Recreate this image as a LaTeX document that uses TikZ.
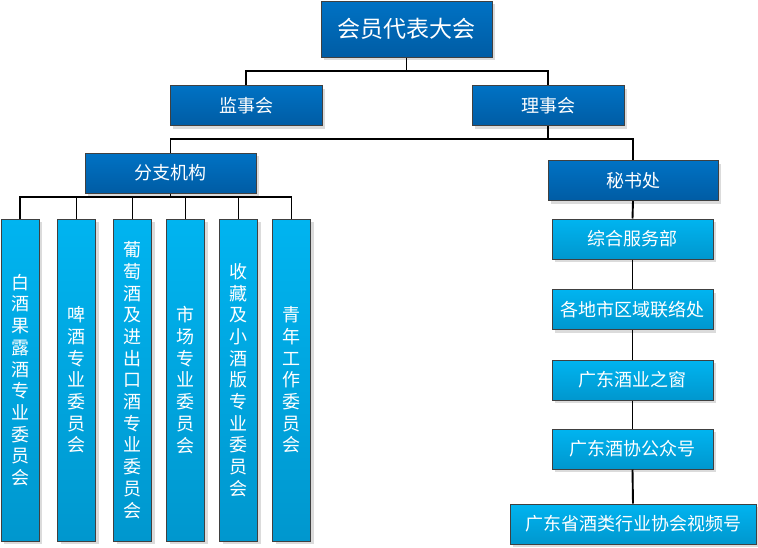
\documentclass[tikz,border=0pt]{standalone}
\usepackage{fontspec}
\setmainfont{Noto Sans CJK SC}
\usetikzlibrary{shadows}

\definecolor{darkTop}{HTML}{0072C4}
\definecolor{darkBot}{HTML}{005CA4}
\definecolor{lightTop}{HTML}{00B4F0}
\definecolor{lightBot}{HTML}{0097CE}
\definecolor{rim}{HTML}{404040}

\tikzset{
  box/.style={draw=rim, line width=1pt, text=white, inner sep=0pt,
    drop shadow={shadow xshift=3pt, shadow yshift=-3pt, fill=black!14, opacity=1}},
  darkbox/.style={box, top color=darkTop, bottom color=darkBot},
  lightbox/.style={box, top color=lightTop, bottom color=lightBot},
  hbox/.style={minimum width=#1, minimum height=40pt, font=\fontsize{18}{22}\selectfont},
  vbox/.style={lightbox, minimum width=38pt, minimum height=322pt, align=center,
    font=\fontsize{18}{21.7}\selectfont},
  link/.style={line width=1.9pt, black},
}

\begin{document}
\begin{tikzpicture}[x=1pt,y=-1pt]
    \useasboundingbox (0,0) rectangle (758,547);

    % Sommet
    \node[darkbox, minimum width=171pt, minimum height=56pt, font=\fontsize{23}{26}\selectfont] (top) at (406.5,29) {会员代表大会};

    % Deuxieme niveau
    \node[darkbox, hbox=152pt] (jsh) at (246,105.5) {监事会};
    \node[darkbox, hbox=152pt] (lsh) at (548,105.5) {理事会};

    % Troisieme niveau
    \node[darkbox, hbox=171pt] (fzjg) at (170.5,173) {分支机构};
    \node[darkbox, hbox=170pt] (msc) at (633,180.5) {秘书处};

    % Commissions (texte vertical)
    \node[vbox] (sub1) at (20,380) {白\\酒\\果\\露\\酒\\专\\业\\委\\员\\会};
    \node[vbox] (sub2) at (76.5,380) {啤\\酒\\专\\业\\委\\员\\会};
    \node[vbox] (sub3) at (132.5,380) {葡\\萄\\酒\\及\\进\\出\\口\\酒\\专\\业\\委\\员\\会};
    \node[vbox] (sub4) at (185.5,380) {市\\场\\专\\业\\委\\员\\会};
    \node[vbox] (sub5) at (238.5,380) {收\\藏\\及\\小\\酒\\版\\专\\业\\委\\员\\会};
    \node[vbox] (sub6) at (291.5,380) {青\\年\\工\\作\\委\\员\\会};

    % Services du secretariat
    \node[lightbox, hbox=161pt] (zhfw) at (632.5,239) {综合服务部};
    \node[lightbox, hbox=161pt] (gdsq) at (632.5,309.5) {各地市区域联络处};
    \node[lightbox, hbox=161pt] (jyzc) at (632.5,380) {广东酒业之窗};
    \node[lightbox, hbox=161pt] (gzh) at (632.5,449) {广东酒协公众号};
    \node[lightbox, hbox=246pt] (sph) at (633,524) {广东省酒类行业协会视频号};

    % Points de jonction
    \coordinate (busA) at (406.5,71);
    \coordinate (busB) at (548,139);
    \coordinate (busC) at (170.5,197);

    % Liaisons
    \draw[link] (top.south) -- (busA);
    \draw[link] (jsh.north) |- (busA) -| (lsh.north);
    \draw[link] (lsh.south) -- (busB);
    \draw[link] (fzjg.north) |- (busB) -| (msc.north);
    \draw[link] (fzjg.south) -- (busC);
    \foreach \i in {1,...,6}
        \draw[link] (busC) -| (sub\i.north);
    \draw[link] (msc.south) -- (zhfw.north);
    \draw[link] (zhfw.south) -- (gdsq.north);
    \draw[link] (gdsq.south) -- (jyzc.north);
    \draw[link] (jyzc.south) -- (gzh.north);
    \draw[link] (gzh.south) -- (sph.north);
\end{tikzpicture}
\end{document}
